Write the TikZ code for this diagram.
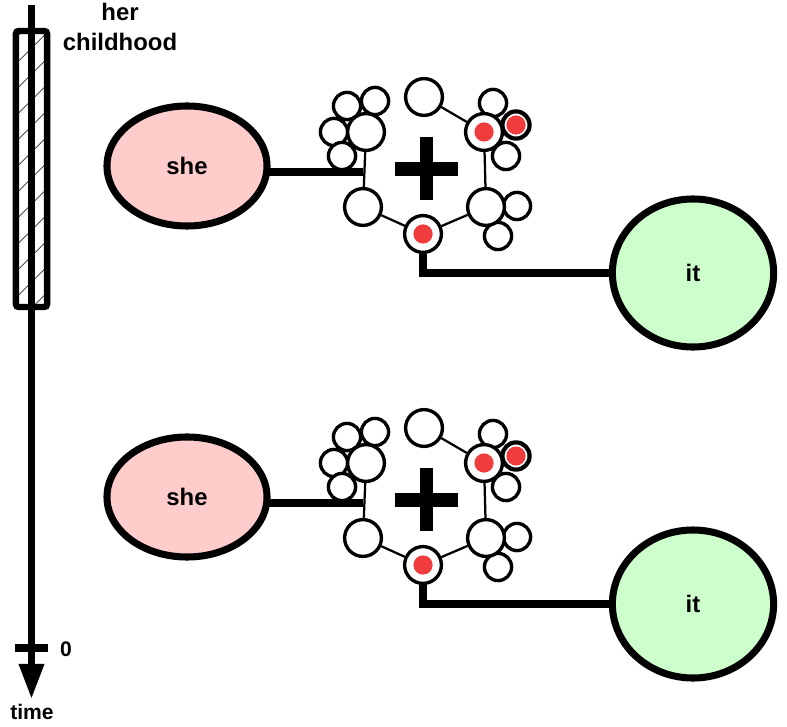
\documentclass[tikz,border=0pt]{standalone}
\usepackage{fontspec}
\setmainfont{Liberation Sans}
\usetikzlibrary{positioning,arrows.meta,shapes.geometric,backgrounds,patterns.meta}
\definecolor{shepink}{HTML}{FFCCCC}
\definecolor{itgreen}{HTML}{CCFFCC}
\definecolor{dotred}{HTML}{F03C3C}
\tikzset{
  lbl/.style={font=\fontsize{17}{21}\selectfont\bfseries,align=center,inner sep=0pt},
  lblsm/.style={font=\fontsize{15}{17}\selectfont\bfseries,inner sep=0pt},
  who/.style={ellipse,draw,line width=5pt,lbl},
  hexc/.style={circle,draw,line width=2.4pt,fill=white,minimum size=0.92cm,inner sep=0pt},
  bub/.style={circle,draw,line width=2.4pt,fill=white,minimum size=0.68cm,inner sep=0pt},
  dot/.style={circle,fill=dotred,minimum size=0.48cm,inner sep=0pt},
  link/.style={line width=5pt},
  hexedge/.style={line width=1.6pt},
}

\begin{document}
\begin{tikzpicture}[x=0.025cm,y=-0.025cm]
\useasboundingbox (0,0) rectangle (787,727);

% ---- time axis
\node[draw,line width=4.5pt,rounded corners=2pt,minimum width=0.78cm,minimum height=6.9cm,inner sep=0pt,
      pattern={Lines[angle=45,distance=13pt,line width=0.5pt]}] (bar) at (31.5,169) {};
\coordinate (ttop) at (31.5,5);
\coordinate (tend) at (31.5,699);
\coordinate (t0) at (31.5,648);
\draw[line width=5pt,-{Triangle[length=25pt,width=17pt]}] (ttop) -- (tend);
\draw[line width=6pt] ([xshift=-0.42cm]t0) -- ([xshift=0.42cm]t0);
\node[lblsm] (zero) at (66,649) {0};
\node[lblsm] (time) at (32,712) {time};
\node[lbl] (child) at (120,27) {her\\childhood};

% ---- two rows
\foreach \r/\dy in {1/0,2/331}{
\begin{scope}[shift={(0,\dy)}]
  \node[who,fill=shepink,minimum width=4cm,minimum height=3cm] (she\r) at (187,166) {she};
  \node[who,fill=itgreen,minimum width=4.03cm,minimum height=3.7cm] (it\r) at (693,273) {it};
  % small bubbles
  \node[bub] (b1\r) at (347,106) {};
  \node[bub] (b2\r) at (375,101) {};
  \node[bub] (b3\r) at (334,132) {};
  \node[bub] (b4\r) at (342,156) {};
  \node[bub] (b5\r) at (493,103) {};
  \node[bub] (b7\r) at (506,156) {};
  \node[bub] (b8\r) at (517,206) {};
  \node[bub] (b9\r) at (498,236) {};
  \node[bub,line width=3pt] (b6\r) at (516,125) {};
  \node[dot] at (b6\r) {};
  % hexagon
  \node[hexc] (hT\r) at (424,97) {};
  \node[hexc] (hUR\r) at (484,132) {};
  \node[hexc] (hLR\r) at (486,207) {};
  \node[hexc] (hB\r) at (423,234) {};
  \node[hexc] (hLL\r) at (363,207) {};
  \node[hexc] (hUL\r) at (366,132) {};
  \node[dot] at (hUR\r) {};
  \node[dot] at (hB\r) {};
  \coordinate (hl\r) at (363,172);
  \draw[line width=9.5pt] (395,169) -- (458,169) (426.5,137) -- (426.5,200);
  \begin{scope}[on background layer]
    \draw[hexedge] (hT\r) -- (hUR\r) -- (hLR\r) -- (hB\r) -- (hLL\r) -- (hUL\r) -- cycle;
    \draw[link] (hl\r) -- (hl\r -| she\r);
    \draw[link] (hB\r) |- (it\r);
  \end{scope}
\end{scope}
}
\end{tikzpicture}
\end{document}
